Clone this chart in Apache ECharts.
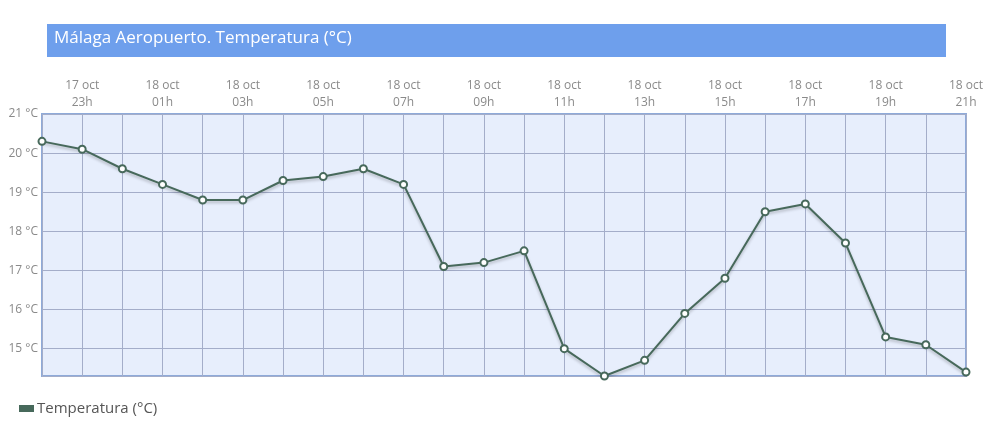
<!DOCTYPE html>
<html>
<head>
<meta charset="utf-8">
<script src="https://cdn.jsdelivr.net/npm/echarts@6/dist/echarts.min.js"></script>
<style>
html,body{margin:0;padding:0;background:#fff;}
#c{width:996px;height:428px;}
</style>
</head>
<body>
<div id="c"></div>
<script>
var titleText = 'Málaga Aeropuerto. Temperatura (°C)';
var seriesName = 'Temperatura (°C)';
var days = ['17 oct','17 oct','18 oct','18 oct','18 oct','18 oct','18 oct','18 oct','18 oct','18 oct','18 oct','18 oct','18 oct','18 oct','18 oct','18 oct','18 oct','18 oct','18 oct','18 oct','18 oct','18 oct','18 oct','18 oct'];
var hours = ['22h','23h','00h','01h','02h','03h','04h','05h','06h','07h','08h','09h','10h','11h','12h','13h','14h','15h','16h','17h','18h','19h','20h','21h'];
var temps = [20.3,20.1,19.6,19.2,18.8,18.8,19.3,19.4,19.6,19.2,17.1,17.2,17.5,15.0,14.3,14.7,15.9,16.8,18.5,18.7,17.7,15.3,15.1,14.4];
var yMax = 21;

var categories = days.map(function(d,i){return d + '\n' + hours[i];});
var lineColor = '#47695b';
var font = 'Open Sans';

var chart = echarts.init(document.getElementById('c'));
chart.setOption({
  animation:false,
  textStyle:{fontFamily:font},
  graphic:[
    {type:'rect', shape:{x:47,y:24,width:899,height:33}, style:{fill:'#6e9fec'}},
    {type:'text', left:54, top:30, style:{text:titleText, fill:'#fff', font:'17px "Open Sans"'}}
  ],
  legend:{
    left:14, top:396, icon:'rect', itemWidth:15, itemHeight:7, itemGap:10,
    textStyle:{fontSize:15, color:'#555', fontFamily:font, padding:[0,0,0,-2]},
    data:[{name:seriesName, itemStyle:{color:lineColor, borderWidth:0}}]
  },
  grid:{left:42, right:30, top:114, bottom:52, show:true, backgroundColor:'#e7eefc', borderColor:'#8eaad9', borderWidth:2},
  xAxis:{
    type:'category', position:'top', boundaryGap:false, data:categories,
    axisLine:{show:false}, axisTick:{show:false},
    axisLabel:{interval:function(i){return i%2===1;}, color:'#8a8a8a', fontSize:12, lineHeight:17, margin:3, fontFamily:font},
    splitLine:{show:true, interval:0, lineStyle:{color:'#a4adc9', width:1}}
  },
  yAxis:{
    type:'value', min:function(v){return v.min;}, max:yMax,
    axisLine:{show:false}, axisTick:{show:false},
    axisLabel:{color:'#8a8a8a', fontSize:12, margin:4, fontFamily:font, showMinLabel:false,
      formatter:function(v){return Math.abs(v-Math.round(v))<1e-6 ? Math.round(v)+' °C' : '';}},
    splitLine:{show:true, lineStyle:{color:'#a4adc9', width:1}}
  },
  series:[{
    name:seriesName, type:'line', data:temps,
    symbol:'circle', symbolSize:7,
    lineStyle:{color:lineColor, width:2, shadowColor:'rgba(0,0,0,0.25)', shadowBlur:3, shadowOffsetY:2},
    itemStyle:{color:'#fff', borderColor:lineColor, borderWidth:2},
    z:3
  }]
});
</script>
</body>
</html>
